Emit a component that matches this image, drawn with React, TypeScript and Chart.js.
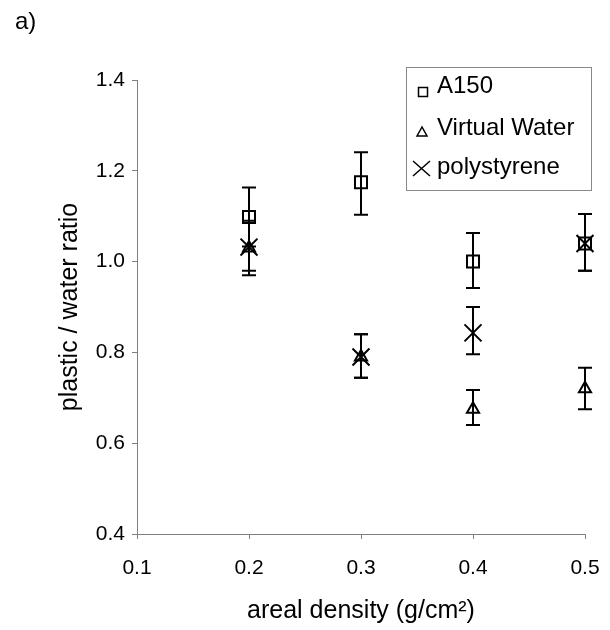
import React, { useEffect, useRef } from 'react';
import { Chart, registerables } from 'chart.js';

Chart.register(...registerables);

const FONT = '"Liberation Sans", Arial, sans-serif';

const xValues = [0.2, 0.3, 0.4, 0.5];

const a150 = [1.098, 1.175, 1.0, 1.04];
const a150Low = [1.033, 1.103, 0.942, 0.98];
const a150High = [1.163, 1.241, 1.063, 1.105];

const virtualWater = [1.03, 0.79, 0.675, 0.72];
const virtualWaterLow = [0.97, 0.744, 0.64, 0.675];
const virtualWaterHigh = [1.09, 0.84, 0.717, 0.766];

const polystyrene = [1.032, 0.79, 0.843, 1.04];
const polystyreneLow = [0.98, 0.744, 0.796, 0.98];
const polystyreneHigh = [1.085, 0.84, 0.9, 1.105];

const seriesLabels = ['A150', 'Virtual Water', 'polystyrene'];
const xTicks = [0.1, 0.2, 0.3, 0.4, 0.5];
const yTicks = [0.4, 0.6, 0.8, 1.0, 1.2, 1.4];
const xTitle = 'areal density (g/cm\u00B2)';
const yTitle = 'plastic / water ratio';
const panelLabel = 'a)';

const errorBars = {
  id: 'errorBars',
  beforeDatasetsDraw(chart: any) {
    const { ctx } = chart;
    const xs = chart.scales.x;
    const ys = chart.scales.y;
    ctx.save();
    ctx.strokeStyle = '#000';
    ctx.lineWidth = 2;
    chart.data.datasets.forEach((ds: any) => {
      ds.data.forEach((p: any, i: number) => {
        const px = xs.getPixelForValue(p.x);
        const top = ys.getPixelForValue(ds.errHigh[i]);
        const bot = ys.getPixelForValue(ds.errLow[i]);
        ctx.beginPath();
        ctx.moveTo(px, top);
        ctx.lineTo(px, bot);
        ctx.moveTo(px - 7, top);
        ctx.lineTo(px + 7, top);
        ctx.moveTo(px - 7, bot);
        ctx.lineTo(px + 7, bot);
        ctx.stroke();
      });
    });
    ctx.restore();
  },
};

const legendAndLabel = {
  id: 'customLegend',
  afterDraw(chart: any) {
    const { ctx } = chart;
    ctx.save();
    ctx.fillStyle = '#000';
    ctx.font = `24px ${FONT}`;
    ctx.textBaseline = 'middle';
    ctx.textAlign = 'left';
    ctx.fillText(panelLabel, 15, 22);

    ctx.strokeStyle = '#888';
    ctx.lineWidth = 1;
    ctx.strokeRect(406.5, 67.5, 185, 123);

    const ys = [86, 128, 167];
    ctx.strokeStyle = '#000';
    ctx.lineWidth = 1.5;
    ctx.strokeRect(418.5, 87.5, 9, 9);
    ctx.beginPath();
    ctx.moveTo(422, 127);
    ctx.lineTo(417, 136);
    ctx.lineTo(427, 136);
    ctx.closePath();
    ctx.stroke();
    ctx.beginPath();
    ctx.moveTo(413, 161);
    ctx.lineTo(430, 176);
    ctx.moveTo(430, 161);
    ctx.lineTo(413, 176);
    ctx.stroke();

    ctx.font = `24px ${FONT}`;
    chart.data.datasets.forEach((ds: any, i: number) => {
      ctx.fillText(ds.label, 437, ys[i]);
    });
    ctx.restore();
  },
};

export default function App() {
  const canvasRef = useRef<HTMLCanvasElement | null>(null);

  useEffect(() => {
    if (!canvasRef.current) return;
    Chart.defaults.font.family = FONT;
    const mk = (vals: number[]) => xValues.map((x, i) => ({ x, y: vals[i] }));
    const base = {
      pointBorderWidth: 2,
      borderColor: '#000',
      backgroundColor: 'rgba(0,0,0,0)',
      clip: false,
    };
    const chart = new Chart(canvasRef.current, {
      type: 'scatter',
      data: {
        datasets: [
          {
            ...base,
            label: seriesLabels[0],
            data: mk(a150),
            errLow: a150Low,
            errHigh: a150High,
            pointStyle: 'rect',
            pointRadius: 8.5,
          } as any,
          {
            ...base,
            label: seriesLabels[1],
            data: mk(virtualWater),
            errLow: virtualWaterLow,
            errHigh: virtualWaterHigh,
            pointStyle: 'triangle',
            pointRadius: 7,
          } as any,
          {
            ...base,
            label: seriesLabels[2],
            data: mk(polystyrene),
            errLow: polystyreneLow,
            errHigh: polystyreneHigh,
            pointStyle: 'crossRot',
            pointRadius: 12,
          } as any,
        ],
      },
      options: {
        animation: false,
        responsive: false,
        devicePixelRatio: 1,
        layout: { padding: { top: 80, right: 25, left: 0, bottom: 0 } },
        plugins: { legend: { display: false }, tooltip: { enabled: false } },
        scales: {
          x: {
            type: 'linear',
            position: 'bottom',
            min: 0.1,
            max: 0.5,
            afterBuildTicks: (s: any) => {
              s.ticks = xTicks.map((v) => ({ value: v }));
            },
            afterFit: (s: any) => {
              s.height = 96;
              s.paddingLeft = 0;
              s.paddingRight = 0;
            },
            ticks: {
              callback: (v: any) => Number(v).toFixed(1),
              font: { size: 21, family: FONT },
              color: '#000',
              padding: 17,
              maxRotation: 0,
            },
            grid: { display: true, drawOnChartArea: false, drawTicks: true, tickLength: 5, color: '#808080' },
            border: { display: true, color: '#808080', width: 1 },
            title: {
              display: true,
              text: xTitle,
              color: '#000',
              font: { size: 25, family: FONT },
              padding: { top: 0, bottom: 4 },
            },
          },
          y: {
            type: 'linear',
            min: 0.4,
            max: 1.4,
            afterBuildTicks: (s: any) => {
              s.ticks = yTicks.map((v) => ({ value: v }));
            },
            afterFit: (s: any) => {
              s.width = 137;
              s.paddingTop = 0;
              s.paddingBottom = 0;
            },
            ticks: {
              callback: (v: any) => Number(v).toFixed(1),
              font: { size: 21, family: FONT },
              color: '#000',
              padding: 7,
            },
            grid: { display: true, drawOnChartArea: false, drawTicks: true, tickLength: 5, color: '#808080' },
            border: { display: true, color: '#808080', width: 1 },
            title: {
              display: true,
              text: yTitle,
              color: '#000',
              font: { size: 25, family: FONT },
              padding: { top: 55, bottom: 0 },
            },
          },
        },
      } as any,
      plugins: [errorBars, legendAndLabel],
    });
    return () => chart.destroy();
  }, []);

  return (
    <div style={{ position: 'absolute', left: 0, top: 0, width: 610, height: 630, background: '#fff' }}>
      <canvas ref={canvasRef} width={610} height={630} style={{ display: 'block' }} />
    </div>
  );
}
